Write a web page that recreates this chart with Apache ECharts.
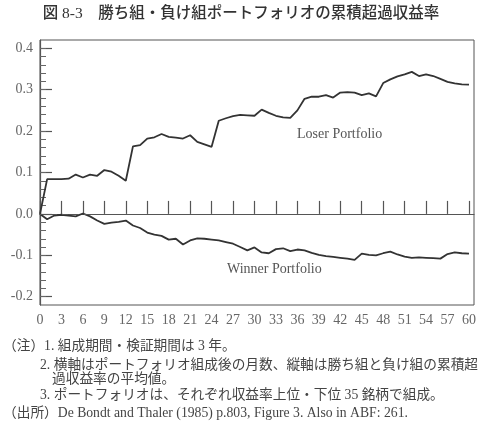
<!DOCTYPE html>
<html>
<head>
<meta charset="utf-8">
<script src="https://cdn.jsdelivr.net/npm/echarts@6/dist/echarts.min.js"></script>
<style>
html, body { margin: 0; padding: 0; background: #fff; }
#main { width: 482px; height: 421px; }
</style>
</head>
<body>
<div id="main"></div>
<script>
// 月数（ポートフォリオ組成後）
var months = [];
for (var i = 0; i <= 60; i++) months.push(i);

// 負け組（Loser Portfolio）累積超過収益率
var loser = [
    0.000, 0.084, 0.084, 0.084, 0.085, 0.095, 0.088, 0.095, 0.092, 0.106,
    0.102, 0.092, 0.080, 0.163, 0.166, 0.182, 0.185, 0.193, 0.186, 0.184,
    0.182, 0.190, 0.174, 0.168, 0.162, 0.225, 0.231, 0.236, 0.239, 0.238,
    0.237, 0.252, 0.244, 0.237, 0.233, 0.232, 0.250, 0.278, 0.283, 0.283,
    0.287, 0.281, 0.293, 0.294, 0.293, 0.287, 0.291, 0.284, 0.316, 0.325,
    0.332, 0.337, 0.343, 0.333, 0.337, 0.333, 0.326, 0.319, 0.315, 0.313,
    0.312
];

// 勝ち組（Winner Portfolio）累積超過収益率
var winner = [
    0.000, -0.013, -0.004, -0.002, -0.004, -0.006, 0.001, -0.006, -0.016, -0.024,
    -0.021, -0.019, -0.016, -0.028, -0.034, -0.045, -0.050, -0.053, -0.062, -0.060,
    -0.074, -0.064, -0.059, -0.060, -0.062, -0.064, -0.068, -0.072, -0.080, -0.088,
    -0.081, -0.093, -0.095, -0.085, -0.083, -0.090, -0.086, -0.088, -0.094, -0.099,
    -0.102, -0.104, -0.106, -0.108, -0.111, -0.096, -0.099, -0.100, -0.095, -0.091,
    -0.098, -0.103, -0.106, -0.105, -0.106, -0.107, -0.108, -0.097, -0.093, -0.095,
    -0.096
];

var xTicks = [0, 3, 6, 9, 12, 15, 18, 21, 24, 27, 30, 33, 36, 39, 42, 45, 48, 51, 54, 57, 60];
var yTicks = [-0.2, -0.1, 0, 0.1, 0.2, 0.3, 0.4];
var yMinorTicks = [-0.2, -0.18, -0.16, -0.14, -0.12, -0.1, -0.08, -0.06, -0.04, -0.02, 0,
    0.02, 0.04, 0.06, 0.08, 0.1, 0.12, 0.14, 0.16, 0.18, 0.2,
    0.22, 0.24, 0.26, 0.28, 0.3, 0.32, 0.34, 0.36, 0.38, 0.4];

var titleText = '図 8-3　勝ち組・負け組ポートフォリオの累積超過収益率';
var notes = [
    '（注）1. 組成期間・検証期間は 3 年。',
    '2. 横軸はポートフォリオ組成後の月数、縦軸は勝ち組と負け組の累積超',
    '過収益率の平均値。',
    '3. ポートフォリオは、それぞれ収益率上位・下位 35 銘柄で組成。',
    '（出所）De Bondt and Thaler (1985) p.803, Figure 3. Also in ABF: 261.'
];

var serif = '"Liberation Serif", "DejaVu Serif", "Noto Sans CJK JP", serif';
var jp = '"Liberation Serif", "Noto Sans CJK JP", serif';

function pairs(arr) {
    return arr.map(function (v, i) { return [months[i], v]; });
}

var dom = document.getElementById('main');
var myChart = echarts.init(dom);
var option = {
    backgroundColor: '#fff',
    animation: false,
    grid: {
        left: 40, right: 8, top: 40, bottom: 116,
        show: true, borderColor: '#555', borderWidth: 1
    },
    xAxis: {
        type: 'value',
        min: 0,
        max: 60.7,
        splitLine: { show: false },
        axisLine: { lineStyle: { color: '#555', width: 1.2 } },
        axisTick: {
            inside: true, length: 13, customValues: xTicks,
            lineStyle: { color: '#555', width: 1.2 }
        },
        axisLabel: {
            customValues: xTicks,
            color: '#666', fontFamily: serif, fontSize: 14, margin: 8
        }
    },
    yAxis: [
        {
            type: 'value',
            min: -0.22,
            max: 0.42,
            splitLine: { show: false },
            axisLine: { lineStyle: { color: '#555', width: 1.2 } },
            axisTick: {
                inside: true, length: 12, customValues: yTicks,
                lineStyle: { color: '#555', width: 1.2 }
            },
            axisLabel: {
                customValues: yTicks,
                color: '#666', fontFamily: serif, fontSize: 14, margin: 7,
                formatter: function (v) { return v.toFixed(1); }
            }
        },
        {
            type: 'value',
            min: -0.22,
            max: 0.42,
            position: 'left',
            splitLine: { show: false },
            axisLine: { show: false },
            axisTick: {
                inside: true, length: 6, customValues: yMinorTicks,
                lineStyle: { color: '#666', width: 1 }
            },
            axisLabel: { show: false }
        }
    ],
    series: [
        {
            name: 'Loser Portfolio',
            type: 'line',
            data: pairs(loser),
            showSymbol: false,
            lineStyle: { color: '#333', width: 1.8 },
            markLine: {
                silent: true,
                symbol: 'none',
                label: { show: false },
                lineStyle: { color: '#555', type: [6, 5], width: 1 },
                data: [{ yAxis: 0 }]
            }
        },
        {
            name: 'Winner Portfolio',
            type: 'line',
            data: pairs(winner),
            showSymbol: false,
            lineStyle: { color: '#333', width: 1.8 }
        }
    ],
    graphic: [
        {
            type: 'text', left: 'center', top: 6,
            style: { text: titleText, fill: '#333', font: '500 15.5px ' + jp }
        },
        {
            type: 'text', left: 297, top: 127,
            style: { text: 'Loser Portfolio', fill: '#555', font: '14px ' + serif }
        },
        {
            type: 'text', left: 227, top: 262,
            style: { text: 'Winner Portfolio', fill: '#555', font: '14px ' + serif }
        },
        { type: 'text', left: 3, top: 340, style: { text: notes[0], fill: '#444', font: '13.7px ' + jp } },
        { type: 'text', left: 40, top: 359, style: { text: notes[1], fill: '#444', font: '13.7px ' + jp } },
        { type: 'text', left: 52, top: 373, style: { text: notes[2], fill: '#444', font: '13.7px ' + jp } },
        { type: 'text', left: 40, top: 389, style: { text: notes[3], fill: '#444', font: '13.7px ' + jp } },
        { type: 'text', left: 3, top: 407, style: { text: notes[4], fill: '#444', font: '13.7px ' + jp } }
    ]
};
if (option && typeof option === 'object') {
    myChart.setOption(option, true);
}
</script>
</body>
</html>
